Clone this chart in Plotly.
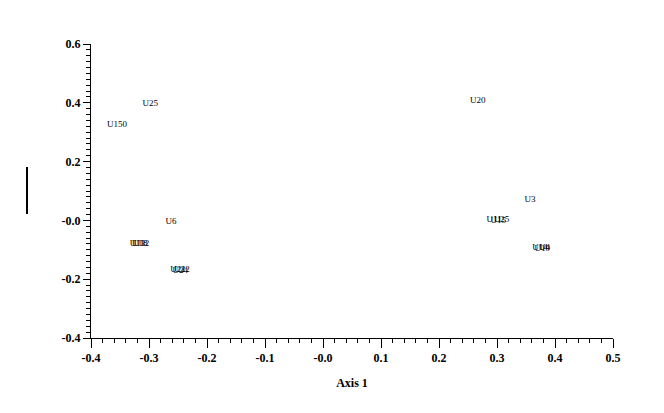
import plotly.graph_objects as go

labels = ["U25", "U150", "U20", "U3", "U6",
          "U13", "U18", "U12",
          "U21", "U24", "U22",
          "U11", "U15", "U25",
          "U14", "U19", "U4"]
xs = [-0.298, -0.355, 0.267, 0.357, -0.262,
      -0.320, -0.316, -0.313,
      -0.250, -0.246, -0.243,
      0.295, 0.302, 0.308,
      0.374, 0.378, 0.382]
ys = [0.396, 0.325, 0.406, 0.069, -0.005,
      -0.080, -0.081, -0.080,
      -0.169, -0.170, -0.169,
      0.001, 0.000, 0.001,
      -0.094, -0.095, -0.094]

x_ticks = [-0.4, -0.3, -0.2, -0.1, 0.0, 0.1, 0.2, 0.3, 0.4, 0.5]
x_ticktext = ["-0.4", "-0.3", "-0.2", "-0.1", "-0.0", "0.1", "0.2", "0.3", "0.4", "0.5"]
y_ticks = [-0.4, -0.2, 0.0, 0.2, 0.4, 0.6]
y_ticktext = ["-0.4", "-0.2", "-0.0", "0.2", "0.4", "0.6"]

serif = "Liberation Serif"

fig = go.Figure()
fig.add_trace(go.Scatter(
    x=xs, y=ys, mode="text", text=labels,
    textposition="middle center",
    textfont=dict(family=serif, size=9, color="#000000"),
    hoverinfo="skip", showlegend=False,
))

fig.update_layout(
    width=664, height=413,
    margin=dict(l=83, r=59, t=36, b=83),
    paper_bgcolor="white", plot_bgcolor="white",
    font=dict(family=serif, color="black"),
    xaxis=dict(
        range=[-0.4, 0.5], tickvals=x_ticks, ticktext=x_ticktext,
        showgrid=False, zeroline=False, showline=True, linecolor="black", linewidth=1,
        ticks="outside", ticklen=9, tickwidth=1, tickcolor="black",
        tickfont=dict(family=serif, size=12, color="black", weight="bold"),
        minor=dict(dtick=0.02, tick0=0, ticks="outside", ticklen=4, tickcolor="black", showgrid=False),
        title=dict(text="<b>Axis 1</b>", font=dict(family=serif, size=12, color="black"), standoff=14),
    ),
    yaxis=dict(
        range=[-0.4, 0.6], tickvals=y_ticks, ticktext=y_ticktext,
        showgrid=False, zeroline=False, showline=True, linecolor="black", linewidth=1,
        ticks="outside", ticklen=7, tickwidth=1, tickcolor="black",
        tickfont=dict(family=serif, size=12, color="black", weight="bold"),
        minor=dict(dtick=0.02, tick0=0, ticks="outside", ticklen=4, tickcolor="black", showgrid=False),
    ),
)

fig.add_shape(type="line", xref="paper", yref="paper",
              x0=-64/522, x1=-64/522, y0=(338-167)/294, y1=(338-214)/294,
              line=dict(color="black", width=2))

fig.write_html("out.html")
